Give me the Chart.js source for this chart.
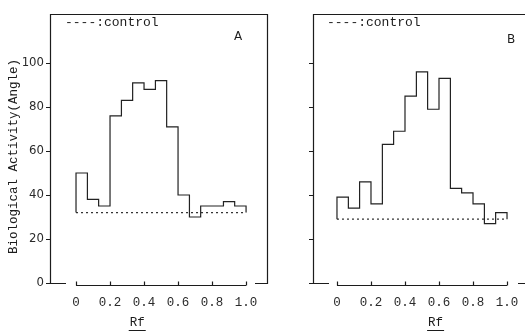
<!DOCTYPE html>
<html><head><meta charset="utf-8">
<script src="https://cdn.jsdelivr.net/npm/chart.js@4/dist/chart.umd.min.js"></script>
<style>
html,body{margin:0;padding:0;background:#fff;overflow:hidden;width:525px;height:331px;position:relative}
canvas{position:absolute;top:0}
#cA{left:0}
#cB{left:263px}
</style></head><body>
<canvas id="cA" width="270" height="331"></canvas>
<canvas id="cB" width="270" height="331"></canvas>
<script>
// ---- data ----
const rfEdges = [0, 0.067, 0.133, 0.2, 0.267, 0.333, 0.4, 0.467, 0.533, 0.6, 0.667, 0.733, 0.8, 0.867, 0.933, 1.0];
const activityA = [50, 38, 35, 76, 83, 91, 88, 92, 71, 40, 30, 35, 35, 37, 35];
const activityB = [39, 34, 46, 36, 63, 69, 85, 96, 79, 93, 43, 41, 36, 27, 32];
const controlA = 32;
const controlB = 29;
const yTicks = [0, 20, 40, 60, 80, 100];
const xTicks = [0, 0.2, 0.4, 0.6, 0.8, 1.0];
const yTitle = 'Biological Activity(Angle)';
const xTitle = 'Rf';
const legendText = '----:control';
const panelA = 'A';
const panelB = 'B';

const INK = '#1c1c1c';
const MONO = '"Liberation Mono", "DejaVu Sans Mono", monospace';

function stepPoints(vals, ctrl) {
  const last = rfEdges.length - 1;
  const pts = [{x: rfEdges[0], y: ctrl}];
  vals.forEach((v, i) => pts.push({x: rfEdges[i], y: v}));
  pts.push({x: rfEdges[last], y: vals[vals.length - 1]});
  pts.push({x: rfEdges[last], y: ctrl});
  return pts;
}
function controlPoints(ctrl) {
  return [{x: rfEdges[0], y: ctrl}, {x: rfEdges[rfEdges.length - 1], y: ctrl}];
}

const framePlugin = {
  id: 'frame',
  afterDraw(chart, args, o) {
    const {ctx, chartArea: {left, top, right, bottom}, scales: {x}} = chart;
    ctx.save();
    ctx.strokeStyle = INK;
    ctx.lineWidth = 1.2;
    // frame
    ctx.beginPath();
    ctx.moveTo(left + 16, bottom + 0.5);
    ctx.lineTo(left + 0.5, bottom + 0.5);
    ctx.lineTo(left + 0.5, top + 0.5);
    ctx.lineTo(right - 0.5, top + 0.5);
    ctx.lineTo(right - 0.5, bottom + 0.5);
    ctx.lineTo(right - 13, bottom + 0.5);
    ctx.stroke();
    // Rf axis baseline with small ticks
    const x0 = x.getPixelForValue(xTicks[0]);
    const x1 = x.getPixelForValue(xTicks[xTicks.length - 1]);
    const by = bottom + 2.5;
    ctx.beginPath();
    ctx.moveTo(x0, by); ctx.lineTo(x1, by);
    xTicks.forEach(t => { const p = Math.round(x.getPixelForValue(t)) + 0.5; ctx.moveTo(p, by); ctx.lineTo(p, by - 4); });
    ctx.stroke();
    // legend text
    ctx.fillStyle = INK;
    ctx.font = '13px ' + MONO;
    ctx.textBaseline = 'middle';
    ctx.textAlign = 'left';
    ctx.fillText(legendText, left + o.legendDx, top + 9);
    // panel letter
    ctx.font = '12px "DejaVu Sans", sans-serif';
    ctx.textAlign = 'center';
    ctx.fillText(o.letter, right - 30 + o.letterDx, top + 23 + o.letterDy);
    // Rf title, underlined
    ctx.font = '12.5px ' + MONO;
    const rx = x.getPixelForValue(o.rfAt);
    const ry = bottom + 40;
    ctx.fillText(xTitle, rx, ry);
    const w = ctx.measureText(xTitle).width;
    ctx.lineWidth = 1;
    ctx.beginPath();
    ctx.moveTo(rx - w / 2 - 1, ry + 7.5); ctx.lineTo(rx + w / 2 + 1, ry + 7.5);
    ctx.stroke();
    // y title
    if (o.showTitle) {
      ctx.save();
      ctx.translate(left - 36, (top + bottom) / 2 + 8);
      ctx.rotate(-Math.PI / 2);
      ctx.font = '12.5px ' + MONO;
      ctx.textAlign = 'center';
      ctx.textBaseline = 'middle';
      ctx.fillText(yTitle, 0, 0);
      ctx.restore();
    }
    ctx.restore();
  }
};

function makeChart(id, vals, ctrl, opts) {
  return new Chart(document.getElementById(id), {
    type: 'line',
    data: {
      datasets: [
        {data: stepPoints(vals, ctrl), stepped: 'before', borderColor: '#222', borderWidth: 1.2, pointRadius: 0, fill: false},
        {data: controlPoints(ctrl), borderColor: '#333', borderWidth: 1.2, borderDash: [2, 3], pointRadius: 0, fill: false}
      ]
    },
    options: {
      responsive: false,
      devicePixelRatio: 1,
      animation: false,
      layout: {padding: {top: 14, right: 2, left: 0, bottom: 0}},
      plugins: {legend: {display: false}, tooltip: {enabled: false}, frame: opts},
      scales: {
        x: {
          type: 'linear', min: opts.xmin, max: opts.xmin + 1.282,
          afterBuildTicks: s => { s.ticks = xTicks.map(v => ({value: v})); },
          afterFit: s => { s.height = 48; },
          grid: {display: false},
          border: {display: false},
          ticks: {padding: 4, color: '#2a2a2a', font: {family: MONO, size: 12.5}, maxRotation: 0,
                  callback: v => (v === 0 ? '0' : v.toFixed(1))}
        },
        y: {
          min: 0, max: 122.3,
          afterBuildTicks: s => { s.ticks = yTicks.map(v => ({value: v})); },
          afterFit: s => { s.width = 50; },
          grid: {display: true, drawOnChartArea: false, drawTicks: true, tickLength: 4, color: INK},
          border: {display: false},
          ticks: {display: opts.showTicks, padding: 2, color: '#2a2a2a',
                  font: {family: '"Liberation Sans Narrow", "DejaVu Sans Condensed", "Liberation Sans", sans-serif', size: 13}}
        }
      }
    },
    plugins: [framePlugin]
  });
}

makeChart('cA', activityA, controlA, {letter: panelA, showTitle: true, showTicks: true, rfAt: 0.36, xmin: -0.153, legendDx: 15, letterDx: 0, letterDy: 0});
makeChart('cB', activityB, controlB, {letter: panelB, showTitle: false, showTicks: false, rfAt: 0.58, xmin: -0.141, legendDx: 14, letterDx: 10, letterDy: 3});
</script>
</body></html>
